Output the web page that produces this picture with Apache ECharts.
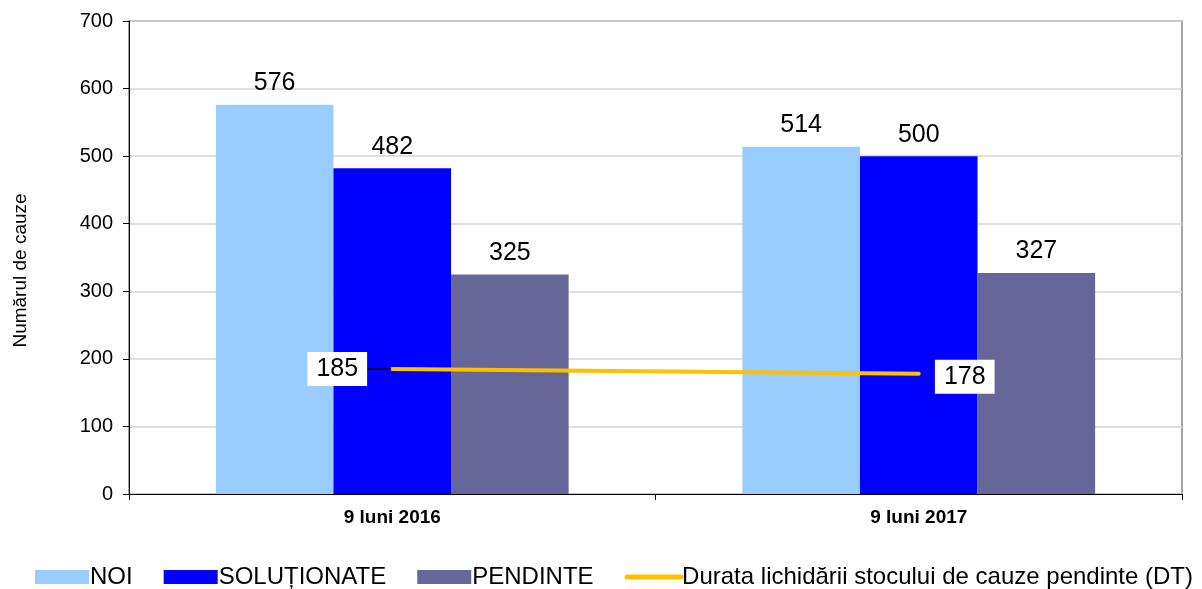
<!DOCTYPE html>
<html>
<head>
<meta charset="utf-8">
<script src="https://cdn.jsdelivr.net/npm/echarts@6/dist/echarts.min.js"></script>
<style>
  html, body { margin: 0; padding: 0; background: #fff; }
  #chart { width: 1202px; height: 589px; }
</style>
</head>
<body>
<div id="chart"></div>
<script>
// date
const categories = ['9 luni 2016', '9 luni 2017'];
const noi = [576, 514];
const solutionate = [482, 500];
const pendinte = [325, 327];
const durata = [185, 178];
const yTicks = [0, 100, 200, 300, 400, 500, 600, 700];

let chart = echarts.init(document.getElementById('chart'));
const font = 'Liberation Sans, Arial, sans-serif';

function barSeries(name, data, color) {
  return {
    name: name,
    type: 'bar',
    data: data,
    barGap: 0,
    barCategoryGap: '33%',
    itemStyle: { color: color },
    label: {
      show: true,
      position: 'top',
      distance: 9,
      color: '#000',
      fontSize: 25,
      fontFamily: font
    }
  };
}

const lineName = 'Durata lichidării stocului de cauze pendinte (DT)';

let option = {
  animation: false,
  backgroundColor: '#fff',
  grid: {
    left: 129,
    right: 20,
    top: 21,
    bottom: 95,
    show: true,
    borderColor: '#888',
    borderWidth: 1.5
  },
  legend: {
    bottom: 0,
    left: 35,
    width: 1200,
    padding: 0,
    itemWidth: 54,
    itemHeight: 14,
    itemGap: 31,
    textStyle: {
      fontFamily: font,
      fontSize: 24,
      color: '#000',
      padding: [0, 0, 0, -4]
    },
    data: [
      { name: 'NOI', icon: 'rect' },
      { name: 'SOLUȚIONATE', icon: 'rect' },
      { name: 'PENDINTE', icon: 'rect' },
      { name: lineName, itemStyle: { opacity: 0 }, lineStyle: { width: 5, color: '#FFC000', cap: 'round' } }
    ]
  },
  xAxis: {
    type: 'category',
    data: categories,
    axisLine: { lineStyle: { color: '#000', width: 1 } },
    axisTick: { show: true, length: 6, lineStyle: { color: '#000' } },
    axisLabel: {
      color: '#000',
      fontWeight: 'bold',
      fontSize: 19,
      fontFamily: font,
      margin: 14
    }
  },
  yAxis: {
    type: 'value',
    min: yTicks[0],
    max: yTicks[yTicks.length - 1],
    interval: 100,
    name: 'Numărul de cauze',
    nameLocation: 'middle',
    nameGap: 99,
    nameTextStyle: { color: '#000', fontSize: 19, fontFamily: font, padding: [0, 26, 0, 0] },
    axisLine: { show: true, lineStyle: { color: '#000', width: 1 } },
    axisTick: { show: true, length: 6, lineStyle: { color: '#000' } },
    splitLine: { lineStyle: { color: '#d4d4d4', width: 1.5 } },
    axisLabel: {
      color: '#000',
      fontSize: 20,
      fontFamily: font,
      margin: 16
    }
  },
  series: [
    barSeries('NOI', noi, '#99CCFF'),
    barSeries('SOLUȚIONATE', solutionate, '#0000FF'),
    barSeries('PENDINTE', pendinte, '#666699'),
    {
      name: lineName,
      type: 'line',
      data: durata.map((v, i) => i === 0 ? v : { value: v, labelLine: { show: false } }),
      symbol: 'circle',
      symbolSize: 2,
      showSymbol: true,
      lineStyle: { color: '#FFC000', width: 4, cap: 'round' },
      itemStyle: { color: '#FFC000' },
      z: 5,
      label: {
        show: true,
        position: 'inside',
        color: '#000',
        fontSize: 25,
        fontFamily: font,
        backgroundColor: '#fff',
        padding: [5, 9, 4, 9]
      },
      labelLine: {
        show: true,
        lineStyle: { color: '#000', width: 1.5 }
      },
      labelLayout: function (params) {
        if (params.dataIndex === 0) {
          return { dx: -55, dy: 0 };
        }
        return { dx: 46, dy: 3 };
      }
    }
  ]
};

chart.setOption(option);
</script>
</body>
</html>
